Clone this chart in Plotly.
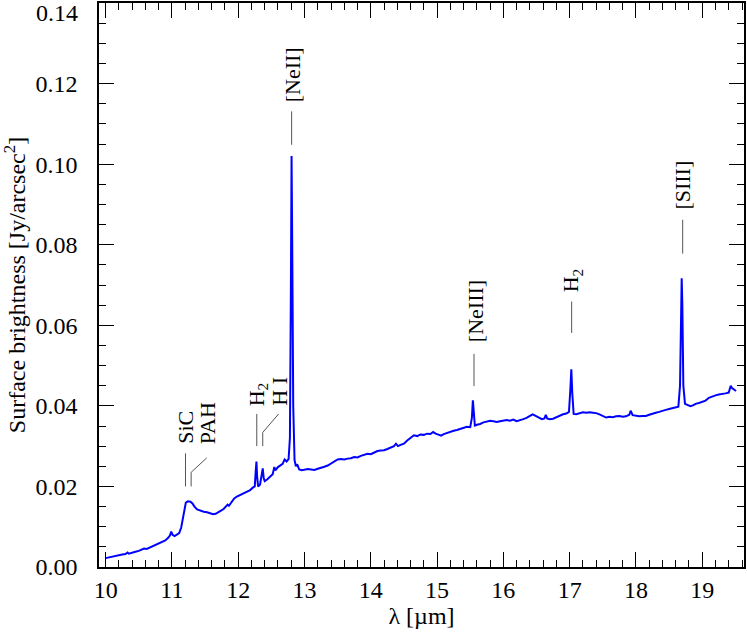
"""Mid-infrared spectrum with labelled emission features."""

import plotly.graph_objects as go

wavelength = [
    10.00, 10.05, 10.10, 10.15, 10.20, 10.25, 10.30, 10.33, 10.35, 10.40,
    10.45, 10.50, 10.55, 10.58, 10.62, 10.66, 10.70, 10.75, 10.80, 10.85,
    10.90, 10.94, 10.97, 10.99, 11.01, 11.04, 11.08, 11.11, 11.14, 11.17,
    11.19, 11.21, 11.24, 11.28, 11.31, 11.34, 11.38, 11.43, 11.48, 11.53,
    11.58, 11.62, 11.66, 11.70, 11.74, 11.78, 11.82, 11.84, 11.86, 11.90,
    11.94, 11.98, 12.02, 12.06, 12.10, 12.14, 12.18, 12.22, 12.25, 12.265,
    12.275, 12.285, 12.30, 12.33, 12.355, 12.37, 12.385, 12.40, 12.44, 12.48,
    12.52, 12.545, 12.56, 12.60, 12.64, 12.67, 12.70, 12.73, 12.76, 12.78,
    12.795, 12.805, 12.815, 12.83, 12.85, 12.87, 12.89, 12.92, 12.96, 13.00,
    13.05, 13.10, 13.15, 13.20, 13.25, 13.30, 13.35, 13.40, 13.45, 13.50,
    13.55, 13.60, 13.65, 13.70, 13.75, 13.80, 13.85, 13.90, 13.95, 14.00,
    14.05, 14.10, 14.15, 14.20, 14.25, 14.30, 14.35, 14.38, 14.41, 14.45,
    14.50, 14.55, 14.60, 14.65, 14.70, 14.75, 14.80, 14.85, 14.90, 14.94,
    14.98, 15.02, 15.06, 15.10, 15.15, 15.20, 15.25, 15.30, 15.35, 15.40,
    15.45, 15.50, 15.525, 15.54, 15.555, 15.57, 15.60, 15.65, 15.70, 15.75,
    15.80, 15.85, 15.90, 15.95, 16.00, 16.05, 16.10, 16.15, 16.20, 16.25,
    16.30, 16.35, 16.40, 16.44, 16.48, 16.53, 16.58, 16.62, 16.64, 16.66,
    16.70, 16.75, 16.80, 16.85, 16.90, 16.95, 16.99, 17.01, 17.025, 17.04,
    17.06, 17.10, 17.15, 17.20, 17.25, 17.30, 17.35, 17.40, 17.45, 17.50,
    17.55, 17.60, 17.65, 17.70, 17.75, 17.80, 17.85, 17.90, 17.92, 17.95,
    18.00, 18.05, 18.10, 18.15, 18.20, 18.25, 18.30, 18.35, 18.40, 18.45,
    18.50, 18.55, 18.60, 18.64, 18.665, 18.68, 18.69, 18.70, 18.715, 18.74,
    18.78, 18.82, 18.86, 18.90, 18.95, 19.00, 19.05, 19.10, 19.15, 19.20,
    19.25, 19.30, 19.35, 19.40, 19.43, 19.45, 19.48, 19.51,
]
brightness = [
    0.0022, 0.0024, 0.0026, 0.0028, 0.0030, 0.0031, 0.0032, 0.0036, 0.0033, 0.0036,
    0.0038, 0.0040, 0.0043, 0.0046, 0.0045, 0.0048, 0.0051, 0.0054, 0.0057, 0.0061,
    0.0066, 0.0072, 0.0078, 0.0088, 0.0080, 0.0077, 0.0080, 0.0084, 0.0098, 0.0125,
    0.0150, 0.0160, 0.0163, 0.0162, 0.0158, 0.0150, 0.0143, 0.0139, 0.0137, 0.0136,
    0.0133, 0.0131, 0.0132, 0.0137, 0.0140, 0.0144, 0.0150, 0.0155, 0.0152, 0.0162,
    0.0170, 0.0175, 0.0178, 0.0182, 0.0185, 0.0188, 0.0191, 0.0197, 0.0200, 0.0240,
    0.0262, 0.0225, 0.0200, 0.0205, 0.0230, 0.0245, 0.0220, 0.0213, 0.0218, 0.0225,
    0.0230, 0.0248, 0.0240, 0.0248, 0.0252, 0.0256, 0.0267, 0.0262, 0.0268, 0.0320,
    0.0700, 0.1020, 0.0800, 0.0400, 0.0265, 0.0250, 0.0255, 0.0242, 0.0240, 0.0241,
    0.0243, 0.0242, 0.0241, 0.0244, 0.0246, 0.0249, 0.0252, 0.0257, 0.0264, 0.0267,
    0.0268, 0.0267, 0.0269, 0.0270, 0.0273, 0.0272, 0.0276, 0.0279, 0.0281, 0.0280,
    0.0284, 0.0288, 0.0289, 0.0290, 0.0293, 0.0297, 0.0300, 0.0306, 0.0300, 0.0303,
    0.0306, 0.0314, 0.0321, 0.0327, 0.0325, 0.0329, 0.0328, 0.0331, 0.0330, 0.0335,
    0.0331, 0.0328, 0.0326, 0.0330, 0.0333, 0.0336, 0.0338, 0.0340, 0.0343, 0.0346,
    0.0348, 0.0347, 0.0370, 0.0414, 0.0375, 0.0351, 0.0353, 0.0355, 0.0359, 0.0362,
    0.0363, 0.0362, 0.0360, 0.0362, 0.0364, 0.0365, 0.0363, 0.0366, 0.0362, 0.0364,
    0.0367, 0.0370, 0.0374, 0.0379, 0.0376, 0.0371, 0.0367, 0.0369, 0.0378, 0.0369,
    0.0367, 0.0368, 0.0372, 0.0377, 0.0379, 0.0381, 0.0385, 0.0440, 0.0491, 0.0430,
    0.0380, 0.0379, 0.0381, 0.0384, 0.0383, 0.0384, 0.0383, 0.0382, 0.0379, 0.0374,
    0.0371, 0.0373, 0.0372, 0.0374, 0.0375, 0.0373, 0.0374, 0.0378, 0.0388, 0.0377,
    0.0375, 0.0374, 0.0375, 0.0375, 0.0378, 0.0381, 0.0383, 0.0385, 0.0388, 0.0390,
    0.0392, 0.0394, 0.0396, 0.0398, 0.0450, 0.0650, 0.0717, 0.0650, 0.0450, 0.0405,
    0.0402, 0.0399, 0.0401, 0.0405, 0.0407, 0.0410, 0.0413, 0.0420, 0.0424, 0.0426,
    0.0428, 0.0429, 0.0431, 0.0433, 0.0450, 0.0444, 0.0440, 0.0437,
]

# feature labels: text, text x, text bottom y
feature_names = ["SiC", "PAH", "H<sub>2</sub>", "H I", "[NeII]", "[NeIII]", "H<sub>2</sub>", "[SIII]"]
feature_text_x = [11.205, 11.536, 12.29, 12.62, 12.816, 15.58, 17.03, 18.71]
feature_text_y = [0.0301, 0.0301, 0.0395, 0.0395, 0.1148, 0.0552, 0.0676, 0.0881]

# leader lines as polylines (x list, y list)
leader_x = [
    [11.205, 11.205],
    [11.29, 11.29, 11.526],
    [12.28, 12.28],
    [12.37, 12.37, 12.61],
    [12.806, 12.806],
    [15.557, 15.557],
    [17.03, 17.03],
    [18.705, 18.705],
]
leader_y = [
    [0.0200, 0.0282],
    [0.0200, 0.0235, 0.0271],
    [0.0300, 0.0380],
    [0.0300, 0.0334, 0.0380],
    [0.1048, 0.1131],
    [0.0449, 0.0529],
    [0.0581, 0.0659],
    [0.0778, 0.0862],
]

FONT = "Liberation Serif, Times New Roman, serif"

fig = go.Figure()
fig.add_trace(go.Scatter(
    x=wavelength,
    y=brightness,
    mode="lines",
    line=dict(color="#0000ff", width=2),
    showlegend=False,
))

for xs, ys in zip(leader_x, leader_y):
    path = "M " + " L ".join(f"{x},{y}" for x, y in zip(xs, ys))
    fig.add_shape(type="path", path=path, xref="x", yref="y",
                  line=dict(color="#555555", width=1))

for name, tx, ty in zip(feature_names, feature_text_x, feature_text_y):
    fig.add_annotation(x=tx, y=ty, text=name, textangle=-90, showarrow=False,
                       xanchor="center", yanchor="bottom",
                       font=dict(family=FONT, size=22, color="black"))

# top y tick label sits just inside the frame
fig.add_annotation(x=0, y=1, xref="paper", yref="paper", text="0.14",
                   showarrow=False, xanchor="right", yanchor="middle",
                   xshift=-19, yshift=-10, font=dict(family=FONT, size=24, color="black"))

fig.update_xaxes(
    range=[9.9, 19.63],
    dtick=1, tick0=10,
    ticks="inside", ticklen=15, tickwidth=1, tickcolor="black",
    minor=dict(dtick=0.2, ticks="inside", ticklen=7, tickcolor="black"),
    showline=True, linecolor="black", linewidth=1.5, mirror="ticks",
    showgrid=False, zeroline=False,
    tickfont=dict(family=FONT, size=24, color="black"),
    ticklabelstandoff=0,
    title=dict(text="λ [µm]", font=dict(family=FONT, size=24, color="black"), standoff=0),
)
fig.update_yaxes(
    range=[0, 0.14],
    tickvals=[0, 0.02, 0.04, 0.06, 0.08, 0.10, 0.12],
    tickformat=".2f",
    ticks="inside", ticklen=15, tickwidth=1, tickcolor="black",
    minor=dict(dtick=0.005, ticks="inside", ticklen=7, tickcolor="black"),
    showline=True, linecolor="black", linewidth=1.5, mirror="ticks",
    showgrid=False, zeroline=False,
    tickfont=dict(family=FONT, size=24, color="black"),
    ticklabelstandoff=15,
    title=dict(text="Surface brightness [Jy/arcsec<sup>2</sup>]",
               font=dict(family=FONT, size=24, color="black"), standoff=4),
)
fig.update_layout(
    width=747, height=633,
    margin=dict(l=99, r=2, t=1, b=66),
    font=dict(family=FONT, size=20, color="black"),
    plot_bgcolor="white", paper_bgcolor="white",
)

fig.write_html("out.html", config={"displayModeBar": False},
               post_script="document.body.style.margin='0px';")
